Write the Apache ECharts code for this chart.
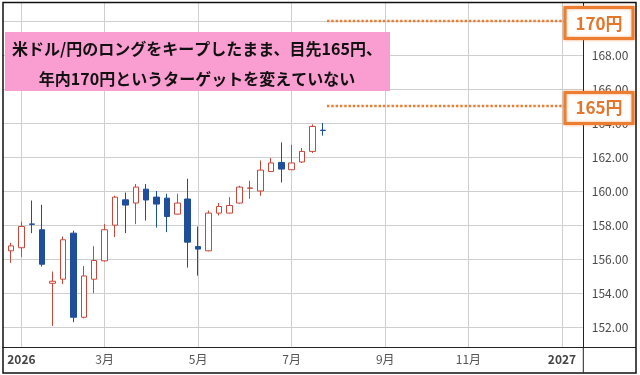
<!DOCTYPE html>
<html><head><meta charset="utf-8">
<script src="https://cdn.jsdelivr.net/npm/echarts@6/dist/echarts.min.js"></script>
<style>html,body{margin:0;padding:0;background:#fff}#c{width:640px;height:375px}</style>
</head><body><div id="c"></div>
<script>
// ---- data (weekly USD/JPY candles) ----
const axisStartWeek = '2025-12-15';
const axisWeekCount = 57;
const candleStartWeek = '2025-12-22';
const opens  = [156.48,156.66,158.06,157.72,154.57,154.81,157.52,152.57,154.81,155.89,157.99,159.48,159.29,160.11,159.64,159.58,158.64,159.53,156.73,156.48,158.70,158.70,159.29,160.16,160.00,161.15,161.68,161.25,161.71,162.33,163.58];
const closes = [156.77,157.91,158.04,155.69,154.69,157.13,152.57,155.00,155.91,157.72,159.64,159.17,160.23,159.47,159.23,158.50,159.29,156.99,156.58,158.70,159.09,159.15,160.23,160.18,161.23,161.65,161.29,161.65,162.33,163.80,163.56];
const lows   = [155.77,156.12,157.52,155.55,152.06,154.52,152.28,152.50,153.99,155.85,157.29,157.52,158.05,158.26,157.85,157.58,158.60,155.49,155.02,156.45,158.56,158.68,159.26,159.54,159.72,161.12,160.50,161.23,161.65,162.24,163.26];
const highs  = [156.95,158.20,159.44,159.19,155.26,157.32,157.66,155.59,156.75,158.05,159.72,159.91,160.41,160.41,160.00,159.84,159.84,160.72,157.91,158.85,159.29,159.64,160.31,160.60,161.80,161.94,162.86,162.72,162.53,163.92,164.00];
const tickWeeks  = ['2025-12-29','2026-02-23','2026-04-27','2026-06-29','2026-08-31','2026-10-26','2026-12-28'];
const tickLabels = ['2026','3月','5月','7月','9月','11月','2027'];
const yearLabels = ['2026','2027'];
const targetLevels = [170, 165];
const targetLabels = ['170円', '165円'];
const noteLines = ['米ドル/円のロングをキープしたまま、目先165円、', '年内170円というターゲットを変えていない'];
const yMin = 150.82, yMax = 171.24;

// ---- build ----
const FONT = '"Noto Sans CJK JP","Noto Sans",sans-serif';
const categories = [];
(function(){
  const [y,m,d] = axisStartWeek.split('-').map(Number);
  const t0 = Date.UTC(y, m-1, d);
  for (let i = 0; i < axisWeekCount; i++) categories.push(new Date(t0 + i*7*86400000).toISOString().slice(0,10));
})();
const startIdx = categories.indexOf(candleStartWeek);
const seriesData = categories.map((c, i) => {
  const k = i - startIdx;
  return (k >= 0 && k < opens.length) ? [opens[k], closes[k], lows[k], highs[k]] : '-';
});
const isTick = (idx, val) => tickWeeks.indexOf(val !== undefined ? val : categories[idx]) >= 0;

const chart = echarts.init(document.getElementById('c'), null, {renderer: 'canvas'});
chart.setOption({
  animation: false,
  backgroundColor: '#fff',
  textStyle: {fontFamily: FONT},
  grid: {left: 0.6, right: 57.2, top: 0, bottom: 28, containLabel: false, outerBoundsMode: 'none'},
  xAxis: {
    type: 'category', data: categories, boundaryGap: false,
    axisLine: {show: true, lineStyle: {color: '#222', width: 1}},
    axisTick: {show: false},
    axisLabel: {
      interval: (idx, val) => isTick(idx, val), margin: 6, fontSize: 12, color: '#555', fontFamily: FONT,
      formatter: v => {
        const j = tickWeeks.indexOf(v);
        if (j < 0) return '';
        const t = tickLabels[j];
        return yearLabels.indexOf(t) >= 0 ? '{y|' + t + '}' : t;
      },
      rich: {y: {fontSize: 12, fontWeight: 'bold', color: '#444', fontFamily: FONT}}
    },
    splitLine: {show: true, interval: (idx, val) => isTick(idx, val), lineStyle: {color: '#cfcfcf', width: 1}}
  },
  yAxis: {
    type: 'value', position: 'right', min: yMin, max: yMax, scale: true,
    splitNumber: 10, minInterval: 2, maxInterval: 2,
    axisLine: {show: true, lineStyle: {color: '#222', width: 1}},
    axisTick: {show: false},
    axisLabel: {margin: 9, fontSize: 12, color: '#4a4a4a', fontFamily: FONT, showMinLabel: false, showMaxLabel: false,
      formatter: v => v.toFixed(2)},
    splitLine: {show: true, lineStyle: {color: '#cfcfcf', width: 1}}
  },
  series: [{
    type: 'candlestick', data: seriesData, barWidth: 6,
    itemStyle: {color: '#ffffff', color0: '#1f4f9c', borderColor: '#c8473a', borderColor0: '#1f4f9c', borderWidth: 1}
  }]
});

// ---- annotations ----
const yPix = v => chart.convertToPixel({yAxisIndex: 0}, v);
const axisRightX = 640 - 57.2, axisBottomY = 375 - 28;
const ORANGE = '#ec7d31';
const g = [];
g.push({type: 'rect', z: 200, silent: true, shape: {x: 0, y: 0, width: 640, height: 375}, style: {fill: null, stroke: '#fff', lineWidth: 5}});
g.push({type: 'rect', z: 201, silent: true, shape: {x: 3, y: 2.5, width: 633, height: 370.5}, style: {fill: null, stroke: '#111', lineWidth: 1.5}});
g.push({type: 'line', z: 150, silent: true, shape: {x1: axisRightX, y1: axisBottomY + 0.5, x2: 636, y2: axisBottomY + 0.5}, style: {stroke: '#222', lineWidth: 1}});
g.push({type: 'line', z: 150, silent: true, shape: {x1: axisRightX + 0.5, y1: axisBottomY, x2: axisRightX + 0.5, y2: 373}, style: {stroke: '#222', lineWidth: 1}});
// pink note
g.push({type: 'rect', z: 120, silent: true, shape: {x: 5, y: 32, width: 385, height: 59}, style: {fill: '#fa9dd0'}});
noteLines.forEach((t, i) => g.push({type: 'text', z: 121, silent: true, x: 197, y: 49 + i*30,
  style: {text: t, fill: '#111', font: 'bold 16px ' + FONT, align: 'center', verticalAlign: 'middle'}}));
// target lines & boxes
targetLevels.forEach((lv, i) => {
  const py = yPix(lv);
  g.push({type: 'line', z: 120, silent: true, shape: {x1: 327, y1: py, x2: 566, y2: py},
    style: {stroke: ORANGE, lineWidth: 2.6, lineDash: [2.4, 1.9]}});
  g.push({type: 'rect', z: 130, silent: true, shape: {x: 565, y: py + 2 - 15.5, width: 68, height: 31},
    style: {fill: '#fff', stroke: ORANGE, lineWidth: 3, shadowBlur: 3, shadowColor: 'rgba(236,125,49,0.6)'}});
  g.push({type: 'text', z: 131, silent: true, x: 599, y: py + 2,
    style: {text: targetLabels[i], fill: '#e3762a', font: 'bold 17px ' + FONT, align: 'center', verticalAlign: 'middle'}});
});
chart.setOption({graphic: g});
</script></body></html>
